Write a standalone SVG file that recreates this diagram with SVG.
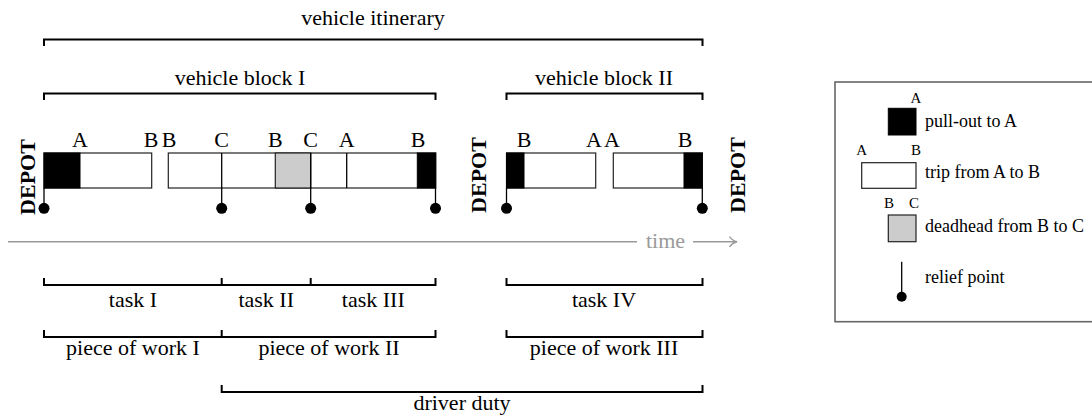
<svg xmlns="http://www.w3.org/2000/svg" width="1092" height="418" viewBox="0 0 1092 418">
<style>
text{font-family:"Liberation Serif","Times New Roman",serif;fill:#000}
.lbl{font-size:22px;text-anchor:middle}
.dep{font-size:22px;font-weight:bold;text-anchor:middle}
.leg{font-size:18px}
.legs{font-size:15px;text-anchor:middle}
.br{fill:none;stroke:#000;stroke-width:2}
.box{fill:#fff;stroke:#222;stroke-width:1.2}
.blk{fill:#000;stroke:#000;stroke-width:1}
.gry{fill:#cccccc;stroke:#222;stroke-width:1.2}
.rl{stroke:#000;stroke-width:1.3}
.dot{fill:#000}
</style>
<rect width="1092" height="418" fill="#fff"/>

<g id="bracket-itinerary">
<path class="br" d="M44,46V39.5H702.5V46"/>
<text class="lbl" x="373" y="25">vehicle itinerary</text>
</g>
<g id="bracket-block1">
<path class="br" d="M44,100V93.5H435.5V100"/>
<text class="lbl" x="240" y="85">vehicle block I</text>
</g>
<g id="bracket-block2">
<path class="br" d="M506.5,100V93.5H702.5V100"/>
<text class="lbl" x="604" y="85">vehicle block II</text>
</g>

<g id="depot-left"><text class="dep" transform="translate(34.5,177) rotate(-90)">DEPOT</text></g>
<g id="depot-mid"><text class="dep" transform="translate(486,175) rotate(-90)">DEPOT</text></g>
<g id="depot-right"><text class="dep" transform="translate(745,175) rotate(-90)">DEPOT</text></g>

<g id="block1-trip1">
<rect class="box" x="44" y="153" width="107.7" height="35"/>
<rect class="blk" x="44" y="153" width="36" height="35"/>
<text class="lbl" x="80" y="147">A</text>
<text class="lbl" x="151" y="147">B</text>
</g>
<g id="block1-trips">
<rect class="box" x="168.3" y="153" width="267.4" height="35"/>
<rect class="gry" x="275.3" y="153" width="35.4" height="35"/>
<rect class="blk" x="417.3" y="153" width="18.4" height="35"/>
<line class="rl" x1="346.7" y1="153" x2="346.7" y2="188"/>
<text class="lbl" x="169" y="147">B</text>
<text class="lbl" x="221.7" y="147">C</text>
<text class="lbl" x="275.3" y="147">B</text>
<text class="lbl" x="310.7" y="147">C</text>
<text class="lbl" x="346.7" y="147">A</text>
<text class="lbl" x="418" y="147">B</text>
</g>
<g id="block2-trip1">
<rect class="box" x="506.5" y="153" width="89.2" height="35"/>
<rect class="blk" x="506.5" y="153" width="17.5" height="35"/>
<text class="lbl" x="524" y="147">B</text>
<text class="lbl" x="594" y="147">A</text>
</g>
<g id="block2-trip2">
<rect class="box" x="613.3" y="153" width="89" height="35"/>
<rect class="blk" x="684" y="153" width="18.3" height="35"/>
<text class="lbl" x="612" y="147">A</text>
<text class="lbl" x="685" y="147">B</text>
</g>

<g id="relief-points">
<line class="rl" x1="44" y1="188" x2="44" y2="208"/><circle class="dot" cx="44" cy="208.3" r="5.5"/>
<line class="rl" x1="221.7" y1="153" x2="221.7" y2="208"/><circle class="dot" cx="221.7" cy="208.3" r="5.5"/>
<line class="rl" x1="310.7" y1="153" x2="310.7" y2="208"/><circle class="dot" cx="310.7" cy="208.3" r="5.5"/>
<line class="rl" x1="435.5" y1="188" x2="435.5" y2="208"/><circle class="dot" cx="435.5" cy="208.3" r="5.5"/>
<line class="rl" x1="506.5" y1="188" x2="506.5" y2="208"/><circle class="dot" cx="506.5" cy="208.3" r="5.5"/>
<line class="rl" x1="702.3" y1="188" x2="702.3" y2="208"/><circle class="dot" cx="702.3" cy="208.3" r="5.5"/>
</g>

<g id="time-axis">
<line x1="8" y1="241.7" x2="637" y2="241.7" stroke="#9a9a9a" stroke-width="1.6"/>
<text x="646" y="248.3" style="font-size:22px;fill:#9a9a9a">time</text>
<line x1="693" y1="241.7" x2="736" y2="241.7" stroke="#9a9a9a" stroke-width="1.4"/>
<path d="M729.5,236.5Q732,240.5 737,241.7Q732,243 729.5,247" fill="none" stroke="#9a9a9a" stroke-width="1.4"/>
</g>

<g id="tasks">
<path class="br" d="M44,278V285H221.7V278M221.7,285H310.7V278M310.7,285H435.5V278"/>
<path class="br" d="M506.5,278V285H702.5V278"/>
<text class="lbl" x="133" y="306.7">task I</text>
<text class="lbl" x="266.2" y="306.7">task II</text>
<text class="lbl" x="373.3" y="306.7">task III</text>
<text class="lbl" x="604" y="306.7">task IV</text>
</g>
<g id="pieces">
<path class="br" d="M44,330V337H221.7V330M221.7,337H435.5V330"/>
<path class="br" d="M506.5,330V337H702.5V330"/>
<text class="lbl" x="133" y="355">piece of work I</text>
<text class="lbl" x="329" y="355">piece of work II</text>
<text class="lbl" x="604" y="355">piece of work III</text>
</g>
<g id="driver-duty">
<path class="br" d="M221.7,385V392H702.5V385"/>
<text class="lbl" x="462" y="410">driver duty</text>
</g>

<g id="legend">
<rect x="835" y="82" width="270" height="239.7" fill="none" stroke="#666" stroke-width="1.6"/>
<text class="legs" x="916" y="102.7">A</text>
<rect class="blk" x="888.3" y="108.3" width="27.7" height="26.7"/>
<text class="leg" x="925" y="126.7">pull-out to A</text>
<text class="legs" x="861.7" y="155">A</text>
<text class="legs" x="916" y="155">B</text>
<rect class="box" x="861.7" y="162.7" width="54.3" height="25.6"/>
<text class="leg" x="925" y="178.3">trip from A to B</text>
<text class="legs" x="889" y="208.3">B</text>
<text class="legs" x="914" y="208.3">C</text>
<rect class="gry" x="888.3" y="215" width="27.7" height="26.7"/>
<text class="leg" x="925" y="231.7">deadhead from B to C</text>
<line class="rl" x1="901.7" y1="261.7" x2="901.7" y2="296"/>
<circle class="dot" cx="901.7" cy="296.7" r="5"/>
<text class="leg" x="925" y="283.3">relief point</text>
</g>
</svg>
